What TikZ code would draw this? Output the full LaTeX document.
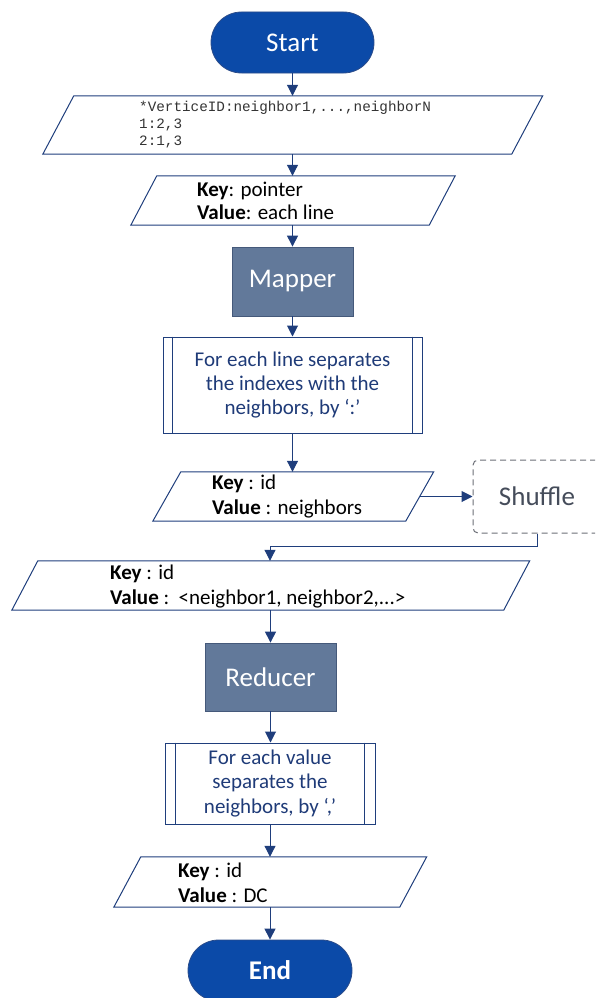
\documentclass[tikz,border=0pt]{standalone}
\usepackage{fontspec}
\setmainfont{Carlito}
\newfontfamily\monofont{Liberation Mono}
\usetikzlibrary{arrows.meta,shapes.misc}

\definecolor{navy}{HTML}{1F3E7C}
\definecolor{termfill}{HTML}{0B4AA8}
\definecolor{termline}{HTML}{2B4C8A}
\definecolor{slate}{HTML}{62799A}
\definecolor{slateline}{HTML}{45597A}
\definecolor{proctext}{HTML}{1F3B78}
\definecolor{shufgray}{HTML}{6B6E76}
\definecolor{shuftext}{HTML}{454C5A}
\definecolor{monotext}{HTML}{333333}

% slanted input/output frame drawn around a named rectangle node
\newcommand\slantframe[2]{%
  \draw[paraline] ([xshift=#2]#1.north west) -- ([xshift=#2]#1.north east)
    -- ([xshift=-#2]#1.south east) -- ([xshift=-#2]#1.south west) -- cycle;}
% predefined-process side bars
\newcommand\procbars[2]{%
  \draw[procline] ([xshift=#2]#1.north west) -- ([xshift=#2]#1.south west);
  \draw[procline] ([xshift=-#2]#1.north east) -- ([xshift=-#2]#1.south east);}

\begin{document}
\begin{tikzpicture}[x=1pt,y=-1pt,
  terminal/.style={rounded rectangle, fill=termfill, draw=termline, line width=0.8pt,
    text=white, font=\fontsize{27}{30}\selectfont, minimum height=61, inner sep=0},
  kvframe/.style={rectangle, inner sep=0},
  paraline/.style={draw=navy, line width=1pt},
  task/.style={rectangle, fill=slate, draw=slateline, line width=0.8pt, text=white,
    font=\fontsize{27}{30}\selectfont, inner sep=0},
  proc/.style={rectangle, draw=navy, line width=1pt, text=proctext, align=center,
    font=\fontsize{21}{24.2}\selectfont, inner sep=0},
  procline/.style={draw=navy, line width=1pt},
  kvtext/.style={anchor=west, align=left, inner sep=0, font=\fontsize{21}{25}\selectfont},
  monotxt/.style={anchor=west, align=left, inner sep=0, text=monotext,
    font=\monofont\fontsize{14.3}{17}\selectfont},
  shufbox/.style={rectangle, rounded corners=5pt, draw=shufgray, line width=1pt,
    dash pattern=on 6pt off 4pt, text=shuftext, font=\fontsize{27}{30}\selectfont, inner sep=0},
  arr/.style={draw=navy, line width=1pt, -{Triangle[width=11pt,length=11pt]}}
]
\useasboundingbox (0,0) rectangle (595,998);
\clip (0,0) rectangle (595,998);

% terminals
\node[terminal, minimum width=163] (start) at (292.5,42.5) {Start};
\node[terminal, minimum width=164, font=\bfseries\fontsize{27}{30}\selectfont] (stop) at (270,970.5) {End};

% input data
\node[kvframe, minimum width=468.5, minimum height=58] (p1) at (292.75,125) {};
\slantframe{p1}{15.5}
\node[monotxt] (p1t) at (139,125) {*VerticeID:neighbor1,...,neighborN\\1:2,3\\2:1,3};

% mapper input pair
\node[kvframe, minimum width=298, minimum height=49] (p2) at (293,200.5) {};
\slantframe{p2}{13}
\node[kvtext, font=\fontsize{21}{22.5}\selectfont] (p2t) at (197,201) {\textbf{Key}: pointer\\\textbf{Value}: each line};

\node[task, minimum width=121, minimum height=69] (mapper) at (292.5,281.5) {Mapper};

\node[proc, minimum width=259, minimum height=96] (pr1) at (292.5,385)
  {For each line separates\\the indexes with the\\neighbors, by ‘:’};
\procbars{pr1}{10}

% mapper output pair
\node[kvframe, minimum width=252.5, minimum height=49] (p3) at (293.25,496.5) {};
\slantframe{p3}{14}
\node[kvtext] (p3t) at (212,496.5) {\textbf{Key} : id\\\textbf{Value} : neighbors};

\node[shufbox, minimum width=128, minimum height=73] (shuffle) at (537,496.5) {Shuffle};

% reducer input pair
\node[kvframe, minimum width=491.5, minimum height=49] (p4) at (270.75,585.5) {};
\slantframe{p4}{13}
\node[kvtext] (p4t) at (110,586.5) {\textbf{Key} : id\\\textbf{Value} :\ \ {<}neighbor1, neighbor2,...{>}};

\node[task, minimum width=131, minimum height=68] (reducer) at (270.5,677) {Reducer};

\node[proc, minimum width=210, minimum height=81] (pr2) at (270,783.5)
  {For each value\\separates the\\neighbors, by ‘,’};
\procbars{pr2}{11}

% reducer output pair
\node[kvframe, minimum width=285.5, minimum height=50] (p5) at (270.25,882) {};
\slantframe{p5}{13.5}
\node[kvtext] (p5t) at (178,882.5) {\textbf{Key} : id\\\textbf{Value} : DC};

% connectors
\coordinate (bend) at (270,546);
\draw[arr] (start.south) -- (start.south |- p1.north);
\draw[arr] (start.south |- p1.south) -- (start.south |- p2.north);
\draw[arr] (mapper.north |- p2.south) -- (mapper.north);
\draw[arr] (mapper.south) -- (mapper.south |- pr1.north);
\draw[arr] (pr1.south) -- (pr1.south |- p3.north);
\draw[arr] (p3.east) -- (p3.east -| shuffle.west);
\draw[arr] (shuffle.south) |- (bend) -- (bend |- p4.north);
\draw[arr] (reducer.north |- p4.south) -- (reducer.north);
\draw[arr] (reducer.south) -- (reducer.south |- pr2.north);
\draw[arr] (pr2.south) -- (pr2.south |- p5.north);
\draw[arr] (stop.north |- p5.south) -- (stop.north);
\end{tikzpicture}
\end{document}
